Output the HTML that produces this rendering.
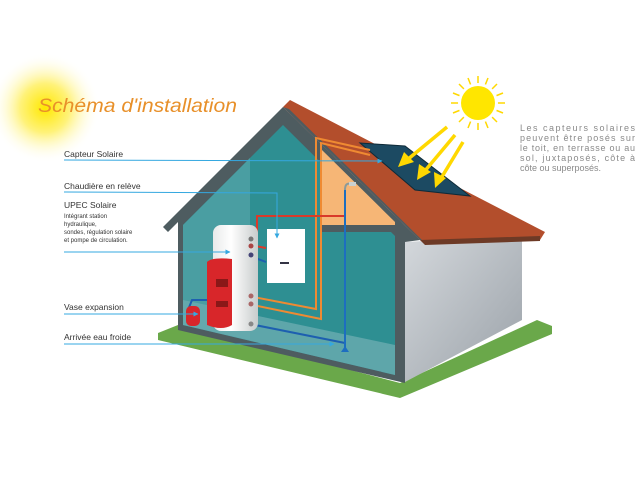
<!DOCTYPE html>
<html><head><meta charset="utf-8"><style>
html,body{margin:0;padding:0;background:#fff;width:640px;height:480px;overflow:hidden}
svg{display:block}
text{font-family:"Liberation Sans",sans-serif}
</style></head><body>
<svg width="640" height="480" viewBox="0 0 640 480" xmlns="http://www.w3.org/2000/svg">
<defs>
<radialGradient id="glow" cx="0.5" cy="0.5" r="0.5">
<stop offset="0" stop-color="#ffe800"/><stop offset="0.45" stop-color="#fff27a"/><stop offset="1" stop-color="#fff" stop-opacity="0"/>
</radialGradient>
<linearGradient id="wall" x1="0" y1="0" x2="1" y2="1">
<stop offset="0" stop-color="#d4d8dc"/><stop offset="1" stop-color="#9aa1a8"/>
</linearGradient>
<linearGradient id="tank" x1="0" x2="1">
<stop offset="0" stop-color="#e8eaea"/><stop offset="0.4" stop-color="#fff"/><stop offset="1" stop-color="#c8cccc"/>
</linearGradient>
<marker id="ar" viewBox="0 0 10 10" refX="9" refY="5" markerWidth="5" markerHeight="5" orient="auto"><path d="M0,0L10,5L0,10z" fill="#35a8e0"/></marker>
</defs>
<circle cx="45" cy="108" r="55" fill="url(#glow)"/>
<text x="38" y="112" font-style="italic" font-size="19" fill="#e8902a" textLength="199" lengthAdjust="spacingAndGlyphs" style="font-family:'Liberation Sans',sans-serif">Schéma d'installation</text>

<!-- ground -->
<polygon points="158,333 178,325 400,383 537,320 552,326 552,334 400,398 158,340" fill="#6aa84a"/>
<!-- right wall -->
<polygon points="405,242 522,236 522,320 405,382" fill="url(#wall)"/>
<!-- front gable outer -->
<polygon points="163,227 283,107 420,240 405,242 405,383 178,330 178,222 168,232" fill="#4e5c60"/>
<!-- interior -->
<polygon points="183,225 283,125 395,236 395,375 183,325" fill="#2e8f92"/>
<polygon points="183,225 250,158 250,340 183,325" fill="#4a9ea2"/>
<polygon points="183,300 395,345 395,375 183,325" fill="#6aabb0" opacity="0.8"/>
<!-- attic -->
<polygon points="322,150 395,222 395,225 322,225" fill="#f6b676"/>
<rect x="322" y="225" width="73" height="7" fill="#4e5c60"/>
<!-- roof -->
<polygon points="283,107 290,100 545,232 540,240 425,244 420,240" fill="#b34e2c"/>
<polygon points="283,107 420,240 426,244 289,109" fill="#4e5c60"/>
<polygon points="420,240 540,236 540,241 425,245" fill="#6d3a26"/>
<!-- solar panel -->
<polygon points="360,143 405,146 470,196 415,190" fill="#1c4a62" stroke="#0e2a38" stroke-width="1"/>

<!-- pipes -->
<g fill="none" stroke-width="2">
<polyline points="248,296 316,309 316,138 370,150" stroke="#ef8a32"/>
<polyline points="248,304 321,319 321,143 370,155" stroke="#ef8a32"/>
<polyline points="252,238 257,238 257,216 345,216" stroke="#d93a2a"/>
<polyline points="255,246 266,248" stroke="#d93a2a"/>
<polyline points="250,256 266,262" stroke="#1d5fb0"/>
<polyline points="250,324 345,343" stroke="#1d5fb0"/>
<polyline points="345,190 345,352" stroke="#1d6ec0"/>
<polyline points="188,310 192,300 212,300" stroke="#1d5fb0"/>
</g>
<path d="M345,190 q0,-8 6,-6" stroke="#8a9a9a" stroke-width="2" fill="none"/>
<rect x="349" y="182" width="7" height="4" fill="#c9d0d0"/>
<polygon points="341,352 349,352 345,346" fill="#1d6ec0"/>

<!-- tank -->
<rect x="213" y="225" width="45" height="106" rx="8" fill="url(#tank)"/>
<path d="M207,262 q5,-5 25,-3 v66 q-10,6 -25,0 z" fill="#d8262a"/>
<rect x="216" y="279" width="12" height="8" fill="#8a1818"/>
<rect x="216" y="301" width="12" height="6" fill="#8a1818"/>
<circle cx="251" cy="239" r="2.5" fill="#777"/><circle cx="251" cy="246" r="2.5" fill="#a44"/>
<circle cx="251" cy="255" r="2.5" fill="#447"/><circle cx="251" cy="296" r="2.5" fill="#a66"/>
<circle cx="251" cy="304" r="2.5" fill="#a66"/><circle cx="251" cy="324" r="2.5" fill="#888"/>
<rect x="186" y="306" width="14" height="20" rx="5" fill="#d8262a"/>
<!-- boiler -->
<rect x="267" y="229" width="38" height="54" fill="#fff"/>
<rect x="280" y="262" width="9" height="2" fill="#334"/>

<!-- sun -->
<g stroke="#ffd800" stroke-width="1.5">
<line x1="478" y1="76" x2="478" y2="130"/><line x1="451" y1="103" x2="505" y2="103"/>
<line x1="459" y1="84" x2="497" y2="122"/><line x1="497" y1="84" x2="459" y2="122"/>
<line x1="468" y1="78" x2="488" y2="128"/><line x1="488" y1="78" x2="468" y2="128"/>
<line x1="453" y1="93" x2="503" y2="113"/><line x1="453" y1="113" x2="503" y2="93"/>
</g>
<circle cx="478" cy="103" r="20" fill="#fff"/>
<circle cx="478" cy="103" r="17" fill="#ffe600"/>
<g stroke="#ffd800" stroke-width="3.5" fill="#ffd800">
<line x1="447" y1="127" x2="407" y2="160"/><polygon points="398,167 404,152 414,162" stroke="none"/>
<line x1="455" y1="135" x2="424" y2="172"/><polygon points="417,180 419,164 431,172" stroke="none"/>
<line x1="463" y1="142" x2="440" y2="180"/><polygon points="435,188 434,172 446,178" stroke="none"/>
</g>

<!-- labels -->
<g fill="#333" font-size="8.5">
<text x="64" y="157">Capteur Solaire</text>
<text x="64" y="189">Chaudière en relève</text>
<text x="64" y="208">UPEC Solaire</text>
<text x="64" y="310">Vase expansion</text>
<text x="64" y="340">Arrivée eau froide</text>
</g>
<g fill="#333" font-size="6">
<text x="64" y="218">Intégrant station</text>
<text x="64" y="226">hydraulique,</text>
<text x="64" y="234">sondes, régulation solaire</text>
<text x="64" y="242">et pompe de circulation.</text>
</g>
<g stroke="#35a8e0" stroke-width="1" fill="none" marker-end="url(#ar)">
<polyline points="64,160 382,161"/>
<polyline points="64,192 277,193 277,238"/>
<polyline points="64,252 230,252"/>
<polyline points="64,314 198,314"/>
<polyline points="64,344 334,344"/>
</g>
<g fill="#8a8a8a" font-size="9">
<text x="520" y="131" textLength="115" lengthAdjust="spacing">Les capteurs solaires</text>
<text x="520" y="141" textLength="115" lengthAdjust="spacing">peuvent être posés sur</text>
<text x="520" y="151" textLength="115" lengthAdjust="spacing">le toit, en terrasse ou au</text>
<text x="520" y="161" textLength="115" lengthAdjust="spacing">sol, juxtaposés, côte à</text>
<text x="520" y="171">côte ou superposés.</text>
</g>
</svg>
</body></html>
